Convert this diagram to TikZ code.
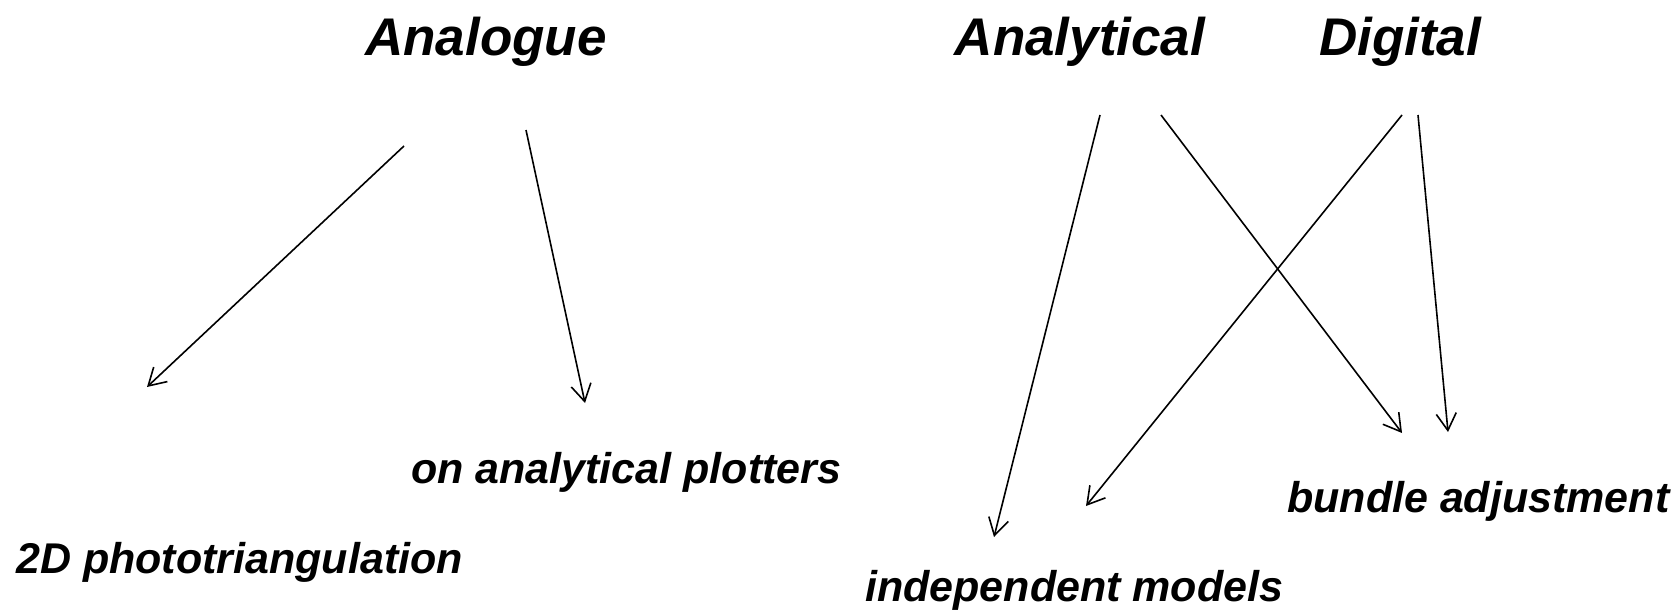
\documentclass[tikz,border=0pt]{standalone}
\usepackage{fontspec}
\setmainfont{Liberation Sans}
\usetikzlibrary{arrows.meta}
\tikzset{
    tree diagram/.style = {x=1pt, y=-1pt, >={Straight Barb[length=17pt, width=20pt]}},
    line/.style         = {line width=1.6pt},
    head/.style         = {font=\fontsize{53}{60}\selectfont\bfseries\itshape,
                           inner sep=0pt, anchor=base},
    leaf/.style         = {font=\fontsize{43}{50}\selectfont\bfseries\itshape,
                           inner sep=0pt, anchor=base west}
}
\begin{document}
\begin{tikzpicture}[tree diagram]

\useasboundingbox (0,0) rectangle (1675,613);

% headings
\node[head] (analogue)   at (486,55)  {Analogue};
\node[head] (analytical) at (1080,55) {Analytical};
\node[head] (digital)    at (1400,55) {Digital};

% methods
\node[leaf] (plotters) at (411,483)  {on analytical plotters};
\node[leaf] (twod)     at (16,573)   {2D phototriangulation};
\node[leaf] (indep)    at (865,601)  {independent models};
\node[leaf] (bundle)   at (1287,512) {bundle adjustment};

% arrow ends
\coordinate (analogue-l)   at (404,146);
\coordinate (analogue-r)   at (526,130);
\coordinate (analytical-l) at (1100,115);
\coordinate (analytical-r) at (1161,115);
\coordinate (digital-l)    at (1402,115);
\coordinate (digital-r)    at (1418,115);
\coordinate (twod-in)      at (147,387);
\coordinate (plotters-in)  at (585,403);
\coordinate (indep-a)      at (994,537);
\coordinate (indep-d)      at (1086,506);
\coordinate (bundle-a)     at (1402,433);
\coordinate (bundle-d)     at (1448,432);

\draw[->, line] (analogue-l) -- (twod-in);
\draw[->, line] (analogue-r) -- (plotters-in);
\draw[->, line] (analytical-l) -- (indep-a);
\draw[->, line] (analytical-r) -- (bundle-a);
\draw[->, line] (digital-l) -- (indep-d);
\draw[->, line] (digital-r) -- (bundle-d);

\end{tikzpicture}
\end{document}
